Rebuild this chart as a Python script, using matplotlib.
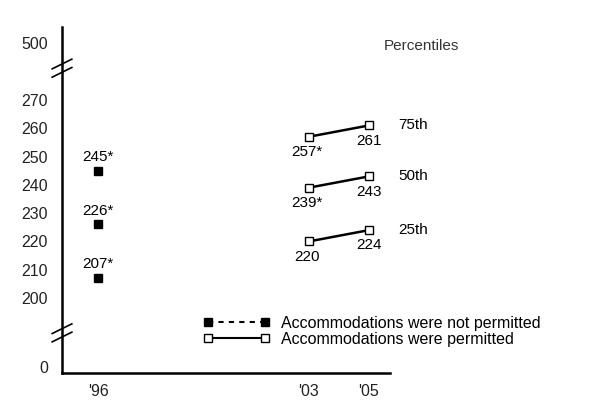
import matplotlib.pyplot as plt
import numpy as np

plt.rcParams['font.family'] = ['Liberation Sans', 'DejaVu Sans']

# scores
years_not = [1996]
not_25 = [207]
not_50 = [226]
not_75 = [245]

years_perm = [2003, 2005]
perm_25 = [220, 224]
perm_50 = [239, 243]
perm_75 = [257, 261]

not_labels = {'25th': ['207*'], '50th': ['226*'], '75th': ['245*']}
perm_labels = {'25th': ['220', '224'], '50th': ['239*', '243'], '75th': ['257*', '261']}

ytick_vals = [200, 210, 220, 230, 240, 250, 260, 270]
xtick_vals = [1996, 2003, 2005]
xtick_labels = ["'96", "'03", "'05"]

# the broken axis: 0 and 500 sit at stand-in positions
pos_zero = 175.5
pos_500 = 290

fig = plt.figure(figsize=(5.96, 4.01), dpi=100)
ax = fig.add_axes([62 / 596, 28 / 401, 328 / 596, 346 / 401])

ax.set_xlim(1994.8, 2005.7)
ax.set_ylim(173.5, 295.8)

for s in ['top', 'right']:
    ax.spines[s].set_visible(False)
ax.spines['left'].set_linewidth(1.8)
ax.spines['bottom'].set_linewidth(1.8)

ax.set_yticks([pos_zero] + ytick_vals + [pos_500])
ax.set_yticklabels(['0'] + [str(v) for v in ytick_vals] + ['500'])
ax.set_xticks(xtick_vals)
ax.set_xticklabels(xtick_labels)
ax.tick_params(axis='both', length=0, labelsize=11.5, colors='#222222')
ax.tick_params(axis='y', pad=10)
ax.tick_params(axis='x', pad=8)

# not permitted (filled squares)
for vals in [not_25, not_50, not_75]:
    ax.plot(years_not, vals, 's', color='black', ms=6, mec='black')
# permitted (open squares joined by line)
for vals in [perm_25, perm_50, perm_75]:
    ax.plot(years_perm, vals, '-s', color='black', lw=1.8, ms=6,
            mfc='white', mec='black', mew=1.0)

for key, vals in zip(['25th', '50th', '75th'], [not_25, not_50, not_75]):
    for x, v, lab in zip(years_not, vals, not_labels[key]):
        ax.annotate(lab, (x, v), xytext=(0, 5), textcoords='offset points',
                    ha='center', va='bottom', fontsize=11)

for key, vals in zip(['25th', '50th', '75th'], [perm_25, perm_50, perm_75]):
    labs = perm_labels[key]
    ax.annotate(labs[0], (years_perm[0], vals[0]), xytext=(-1, -6),
                textcoords='offset points', ha='center', va='top', fontsize=11)
    ax.annotate(labs[1], (years_perm[1], vals[1]), xytext=(0, -6),
                textcoords='offset points', ha='center', va='top', fontsize=11)
    ax.annotate(key, (years_perm[1], vals[1]), xytext=(21, 0),
                textcoords='offset points', ha='left', va='center', fontsize=11)

ax.text(2005.5, 289, 'Percentiles', ha='left', va='center', fontsize=11,
        color='#333333')

# break marks on the y axis
for yb in [0.881, 0.116]:
    for dy in [-0.012, 0.012]:
        ax.plot([-0.03, 0.03], [yb + dy - 0.014, yb + dy + 0.014],
                transform=ax.transAxes, color='black', lw=1.2, clip_on=False)

# legend
h1, = ax.plot([], [], '--s', color='black', lw=1.5, ms=6, dashes=(2.5, 2.5))
h2, = ax.plot([], [], '-s', color='black', lw=1.5, ms=6, mfc='white', mew=1.0)
fig.legend([h1, h2], ['Accommodations were not permitted',
                      'Accommodations were permitted'],
           loc='upper left', bbox_to_anchor=(203 / 596, 1 - 316 / 401),
           frameon=False, numpoints=2, handlelength=4.2, handletextpad=0.7,
           labelspacing=0.05, fontsize=11.5, borderaxespad=0, borderpad=0)

fig.savefig('out.png', dpi=100)
